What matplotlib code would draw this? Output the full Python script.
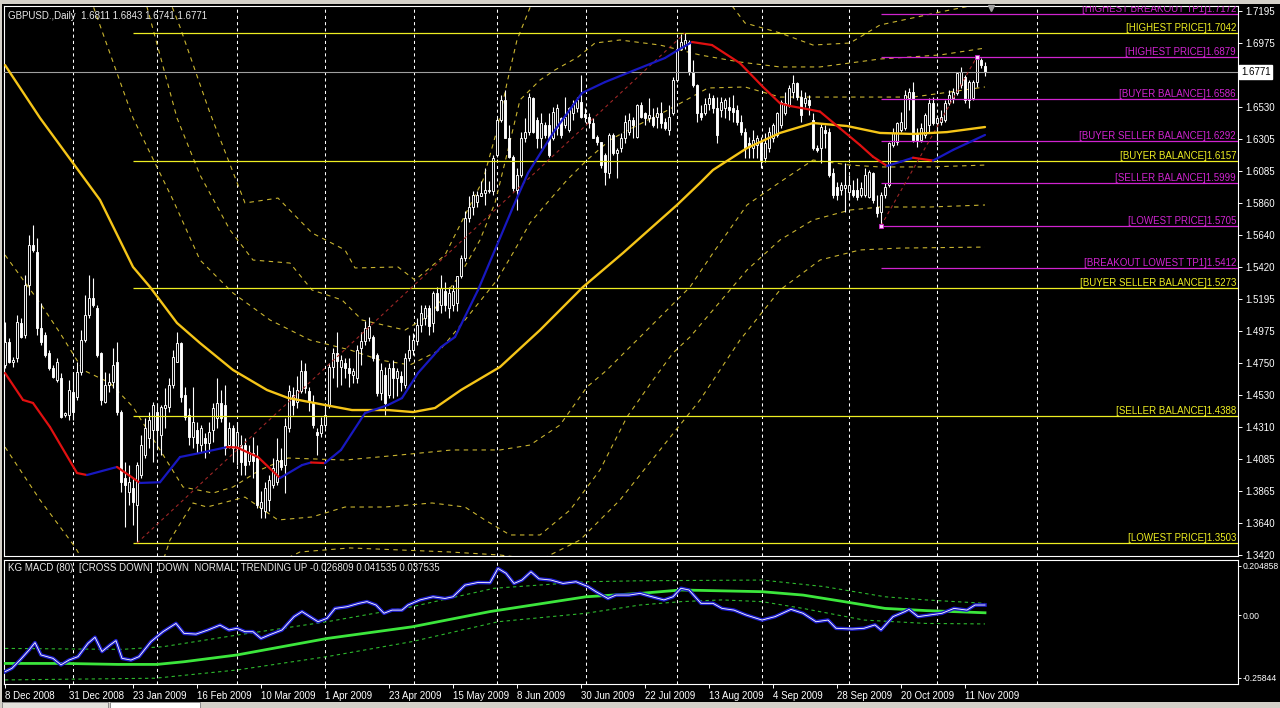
import matplotlib
matplotlib.use("Agg")
import matplotlib.pyplot as plt
import matplotlib.transforms as mtransforms
from matplotlib.patches import Rectangle
import numpy as np

plt.rcParams['font.family'] = ['Liberation Sans', 'DejaVu Sans']

# ---- daily candles (GBPUSD, 8 Dec 2008 .. 18 Nov 2009) ----
opens = [
    1.4739, 1.4901, 1.4762, 1.4785, 1.5028, 1.4947, 1.5294, 1.5572, 1.5526, 1.4994,
    1.4947, 1.4820, 1.4716, 1.4635, 1.4647, 1.4392, 1.4392, 1.4554, 1.4519, 1.4693,
    1.4913, 1.5086, 1.5202, 1.5132, 1.4820, 1.4485, 1.4600, 1.4624, 1.4762, 1.4415,
    1.3953, 1.3860, 1.3883, 1.3768, 1.3976, 1.4115, 1.4230, 1.4288, 1.4415, 1.4253,
    1.4438, 1.4450, 1.4600, 1.4762, 1.4889, 1.4531, 1.4392, 1.4242, 1.4288, 1.4184,
    1.4230, 1.4196, 1.4288, 1.4369, 1.4473, 1.4462, 1.4184, 1.4300, 1.4161, 1.4184,
    1.4185, 1.4069, 1.4127, 1.4092, 1.3745, 1.3722, 1.3803, 1.3907, 1.3930, 1.4081,
    1.4046, 1.4300, 1.4532, 1.4485, 1.4555, 1.4694, 1.4555, 1.4474, 1.4277, 1.4266,
    1.4324, 1.4462, 1.4728, 1.4821, 1.4728, 1.4751, 1.4717, 1.4670, 1.4647, 1.4856,
    1.4902, 1.4925, 1.4936, 1.4809, 1.4543, 1.4670, 1.4532, 1.4717, 1.4647, 1.4659,
    1.4601, 1.4786, 1.4844, 1.4902, 1.5017, 1.5064, 1.5133, 1.5029, 1.5237, 1.5156,
    1.5249, 1.5133, 1.5156, 1.5168, 1.5353, 1.5480, 1.5758, 1.5838, 1.5873, 1.5908,
    1.5931, 1.5943, 1.5943, 1.6196, 1.6438, 1.6576, 1.6311, 1.6185, 1.5954, 1.6058,
    1.6311, 1.6357, 1.6588, 1.6438, 1.6311, 1.6404, 1.6404, 1.6311, 1.6381, 1.6450,
    1.6404, 1.6369, 1.6484, 1.6519, 1.6565, 1.6477, 1.6461, 1.6415, 1.6323, 1.6288,
    1.6196, 1.6069, 1.6334, 1.6208, 1.6242, 1.6311, 1.6357, 1.6438, 1.6323, 1.6542,
    1.6484, 1.6450, 1.6461, 1.6461, 1.6484, 1.6427, 1.6369, 1.6484, 1.6715, 1.6934,
    1.6957, 1.6980, 1.6772, 1.6680, 1.6484, 1.6484, 1.6553, 1.6588, 1.6519, 1.6507,
    1.6519, 1.6530, 1.6519, 1.6507, 1.6427, 1.6358, 1.6277, 1.6242, 1.6265, 1.6289,
    1.6173, 1.6242, 1.6312, 1.6335, 1.6404, 1.6485, 1.6543, 1.6636, 1.6694, 1.6601,
    1.6555, 1.6578, 1.6439, 1.6242, 1.6242, 1.6370, 1.6358, 1.6068, 1.5976, 1.5953,
    1.5964, 1.5941, 1.5953, 1.5953, 1.5918, 1.5918, 1.5906, 1.6068, 1.5837, 1.5802,
    1.5918, 1.5987, 1.6265, 1.6289, 1.6370, 1.6381, 1.6590, 1.6636, 1.6346, 1.6300,
    1.6335, 1.6404, 1.6555, 1.6416, 1.6428, 1.6439, 1.6555, 1.6590, 1.6624, 1.6682,
    1.6740, 1.6578, 1.6590, 1.6705, 1.6856, 1.6811,
]
highs = [
    1.5040, 1.4924, 1.4797, 1.5086, 1.5063, 1.5364, 1.5641, 1.5711, 1.5618, 1.5167,
    1.4970, 1.4843, 1.4739, 1.4785, 1.4681, 1.4415, 1.4635, 1.4693, 1.4762, 1.4982,
    1.5225, 1.5364, 1.5341, 1.5156, 1.4832, 1.4693, 1.4681, 1.4855, 1.4901, 1.4427,
    1.4068, 1.4045, 1.3953, 1.4068, 1.4253, 1.4369, 1.4415, 1.4485, 1.4473, 1.4462,
    1.4577, 1.4647, 1.4843, 1.4970, 1.4901, 1.4589, 1.4438, 1.4589, 1.4346, 1.4323,
    1.4265, 1.4346, 1.4473, 1.4647, 1.4566, 1.4600, 1.4346, 1.4323, 1.4346, 1.4253,
    1.4231, 1.4185, 1.4242, 1.4185, 1.3861, 1.3930, 1.3977, 1.4092, 1.4231, 1.4162,
    1.4370, 1.4601, 1.4589, 1.4659, 1.4775, 1.4751, 1.4589, 1.4532, 1.4300, 1.4381,
    1.4474, 1.4751, 1.4856, 1.4971, 1.4809, 1.4786, 1.4786, 1.4717, 1.4879, 1.4971,
    1.5041, 1.5075, 1.4948, 1.4821, 1.4751, 1.4728, 1.4751, 1.4775, 1.4717, 1.4694,
    1.4821, 1.4948, 1.4960, 1.5064, 1.5156, 1.5156, 1.5156, 1.5249, 1.5283, 1.5364,
    1.5318, 1.5283, 1.5295, 1.5353, 1.5503, 1.5804, 1.5908, 1.5943, 1.5943, 1.6012,
    1.6104, 1.6012, 1.6197, 1.6450, 1.6611, 1.6646, 1.6404, 1.6196, 1.6104, 1.6357,
    1.6450, 1.6623, 1.6599, 1.6461, 1.6484, 1.6427, 1.6484, 1.6530, 1.6553, 1.6461,
    1.6599, 1.6530, 1.6576, 1.6599, 1.6749, 1.6519, 1.6484, 1.6450, 1.6334, 1.6288,
    1.6208, 1.6346, 1.6346, 1.6242, 1.6346, 1.6473, 1.6484, 1.6461, 1.6553, 1.6565,
    1.6496, 1.6588, 1.6519, 1.6530, 1.6565, 1.6450, 1.6542, 1.6738, 1.7003, 1.7037,
    1.7042, 1.6991, 1.6853, 1.6692, 1.6542, 1.6588, 1.6623, 1.6611, 1.6599, 1.6599,
    1.6588, 1.6599, 1.6611, 1.6542, 1.6473, 1.6381, 1.6323, 1.6370, 1.6335, 1.6323,
    1.6346, 1.6393, 1.6416, 1.6497, 1.6578, 1.6636, 1.6682, 1.6752, 1.6705, 1.6647,
    1.6636, 1.6613, 1.6485, 1.6265, 1.6416, 1.6404, 1.6381, 1.6103, 1.6011, 1.6011,
    1.6138, 1.6057, 1.6022, 1.6034, 1.6011, 1.6103, 1.6092, 1.6080, 1.5918, 1.5941,
    1.5999, 1.6289, 1.6381, 1.6428, 1.6497, 1.6647, 1.6659, 1.6705, 1.6381, 1.6416,
    1.6485, 1.6590, 1.6601, 1.6474, 1.6509, 1.6578, 1.6647, 1.6659, 1.6775, 1.6810,
    1.6752, 1.6717, 1.6717, 1.6879, 1.6870, 1.6843,
]
lows = [
    1.4716, 1.4751, 1.4728, 1.4762, 1.4924, 1.4924, 1.5225, 1.5526, 1.4947, 1.4878,
    1.4797, 1.4704, 1.4647, 1.4624, 1.4369, 1.4381, 1.4357, 1.4357, 1.4496, 1.4670,
    1.4901, 1.5063, 1.5144, 1.4797, 1.4462, 1.4473, 1.4554, 1.4577, 1.4392, 1.3860,
    1.3617, 1.3768, 1.3629, 1.3503, 1.3953, 1.4092, 1.4161, 1.4068, 1.4161, 1.4115,
    1.4300, 1.4415, 1.4577, 1.4762, 1.4485, 1.4357, 1.4184, 1.4161, 1.4126, 1.4138,
    1.4092, 1.4126, 1.4207, 1.4300, 1.4346, 1.4115, 1.4161, 1.4068, 1.4045, 1.3976,
    1.3977, 1.4046, 1.3953, 1.3745, 1.3676, 1.3676, 1.3722, 1.3884, 1.3907, 1.4011,
    1.3849, 1.4277, 1.4393, 1.4439, 1.4543, 1.4543, 1.4416, 1.4300, 1.4115, 1.4242,
    1.4300, 1.4439, 1.4647, 1.4589, 1.4601, 1.4647, 1.4589, 1.4613, 1.4613, 1.4740,
    1.4879, 1.4902, 1.4763, 1.4520, 1.4497, 1.4393, 1.4509, 1.4509, 1.4520, 1.4555,
    1.4578, 1.4763, 1.4809, 1.4879, 1.4971, 1.5017, 1.4948, 1.4971, 1.5110, 1.5098,
    1.5110, 1.5064, 1.5110, 1.5110, 1.5341, 1.5457, 1.5734, 1.5781, 1.5838, 1.5908,
    1.5850, 1.5931, 1.5919, 1.6185, 1.6427, 1.6311, 1.6173, 1.5943, 1.5816, 1.6046,
    1.6288, 1.6334, 1.6346, 1.6242, 1.6242, 1.6311, 1.6185, 1.6300, 1.6334, 1.6311,
    1.6381, 1.6357, 1.6438, 1.6496, 1.6450, 1.6427, 1.6381, 1.6311, 1.6265, 1.6104,
    1.5989, 1.6035, 1.6196, 1.6035, 1.6219, 1.6277, 1.6334, 1.6311, 1.6311, 1.6450,
    1.6404, 1.6427, 1.6392, 1.6381, 1.6381, 1.6369, 1.6334, 1.6473, 1.6703, 1.6922,
    1.6934, 1.6749, 1.6669, 1.6427, 1.6438, 1.6473, 1.6507, 1.6484, 1.6277, 1.6461,
    1.6450, 1.6438, 1.6427, 1.6404, 1.6334, 1.6173, 1.6173, 1.6173, 1.6173, 1.6103,
    1.6150, 1.6219, 1.6289, 1.6323, 1.6381, 1.6474, 1.6532, 1.6590, 1.6578, 1.6428,
    1.6532, 1.6474, 1.6231, 1.6219, 1.6138, 1.6242, 1.6045, 1.5895, 1.5883, 1.5918,
    1.5802, 1.5883, 1.5906, 1.5883, 1.5906, 1.5906, 1.5895, 1.5860, 1.5767, 1.5705,
    1.5895, 1.5976, 1.6254, 1.6265, 1.6358, 1.6370, 1.6509, 1.6289, 1.6254, 1.6289,
    1.6312, 1.6358, 1.6404, 1.6265, 1.6404, 1.6428, 1.6543, 1.6555, 1.6613, 1.6659,
    1.6555, 1.6520, 1.6578, 1.6671, 1.6798, 1.6741,
]
closes = [
    1.4901, 1.4762, 1.4774, 1.5040, 1.4936, 1.5294, 1.5572, 1.5537, 1.4994, 1.4901,
    1.4809, 1.4716, 1.4658, 1.4762, 1.4381, 1.4404, 1.4566, 1.4415, 1.4693, 1.4913,
    1.5086, 1.5202, 1.5156, 1.4809, 1.4496, 1.4600, 1.4624, 1.4739, 1.4415, 1.3930,
    1.3906, 1.3930, 1.3791, 1.4045, 1.4184, 1.4300, 1.4357, 1.4462, 1.4288, 1.4450,
    1.4462, 1.4600, 1.4797, 1.4889, 1.4519, 1.4381, 1.4242, 1.4346, 1.4196, 1.4300,
    1.4196, 1.4277, 1.4438, 1.4473, 1.4369, 1.4161, 1.4300, 1.4161, 1.4277, 1.4068,
    1.4046, 1.4138, 1.4069, 1.3768, 1.3791, 1.3884, 1.3942, 1.4023, 1.4081, 1.4034,
    1.4312, 1.4555, 1.4462, 1.4566, 1.4694, 1.4578, 1.4485, 1.4324, 1.4254, 1.4324,
    1.4393, 1.4728, 1.4821, 1.4763, 1.4775, 1.4717, 1.4682, 1.4694, 1.4844, 1.4902,
    1.4994, 1.5006, 1.4786, 1.4543, 1.4705, 1.4474, 1.4717, 1.4647, 1.4694, 1.4624,
    1.4786, 1.4844, 1.4913, 1.5017, 1.5098, 1.5133, 1.5006, 1.5237, 1.5121, 1.5272,
    1.5156, 1.5237, 1.5249, 1.5353, 1.5480, 1.5758, 1.5838, 1.5919, 1.5919, 1.5931,
    1.5954, 1.5954, 1.6174, 1.6438, 1.6576, 1.6311, 1.6185, 1.5966, 1.6058, 1.6311,
    1.6357, 1.6599, 1.6357, 1.6311, 1.6415, 1.6334, 1.6196, 1.6496, 1.6519, 1.6334,
    1.6461, 1.6519, 1.6553, 1.6576, 1.6461, 1.6461, 1.6415, 1.6311, 1.6288, 1.6127,
    1.6081, 1.6334, 1.6208, 1.6231, 1.6311, 1.6427, 1.6438, 1.6404, 1.6542, 1.6461,
    1.6450, 1.6473, 1.6404, 1.6484, 1.6415, 1.6381, 1.6461, 1.6715, 1.6934, 1.6980,
    1.6991, 1.6772, 1.6680, 1.6484, 1.6461, 1.6553, 1.6588, 1.6519, 1.6334, 1.6565,
    1.6576, 1.6507, 1.6496, 1.6427, 1.6357, 1.6242, 1.6254, 1.6300, 1.6312, 1.6161,
    1.6277, 1.6358, 1.6404, 1.6485, 1.6566, 1.6555, 1.6659, 1.6694, 1.6601, 1.6474,
    1.6590, 1.6543, 1.6242, 1.6231, 1.6393, 1.6346, 1.6057, 1.5918, 1.5918, 1.5987,
    1.5987, 1.5987, 1.5918, 1.5906, 1.5964, 1.6057, 1.6080, 1.5883, 1.5791, 1.5918,
    1.5976, 1.6277, 1.6346, 1.6416, 1.6428, 1.6613, 1.6636, 1.6300, 1.6300, 1.6381,
    1.6474, 1.6555, 1.6416, 1.6451, 1.6462, 1.6555, 1.6613, 1.6636, 1.6763, 1.6775,
    1.6578, 1.6705, 1.6705, 1.6868, 1.6821, 1.6771,
]

# ---- indicator curves (bar index, value) ----
slow_ma_bar = [0, 8.75, 23.75, 32, 36.25, 43, 48.75, 57, 60, 65.5, 70.75, 80, 86.75, 95.75,
               102, 107.5, 114, 123.75, 133.75, 144.5, 154.5, 168, 173.75, 177, 185.5,
               193.75, 202, 210.5, 218.75, 227, 235.5, 245]
slow_ma_val = [1.6820, 1.6453, 1.5884, 1.5419, 1.5280, 1.5030, 1.4891, 1.4704, 1.4655, 1.4565,
               1.4510, 1.4461, 1.4426, 1.4426, 1.4412, 1.4440, 1.4565, 1.4725, 1.4981, 1.5280,
               1.5516, 1.5849, 1.6002, 1.6092, 1.6244, 1.6349, 1.6418, 1.6397, 1.6349, 1.6342,
               1.6355, 1.6390]

fast_ma_bar = [0, 4.5, 7, 11.25, 18, 20.5, 28, 33.75, 38.75, 43.75, 48.75, 55.5, 58, 63.25,
               68.75, 74.25, 76.5, 80, 84, 90, 95.75, 99.25, 103.25, 109, 112.5, 118.25,
               123.75, 127, 130.75, 137.5, 144.25, 150, 157.5, 165, 168.25, 171.75, 176.75,
               183.75, 189.5, 193.75, 196.25, 200.5, 203.75, 208.75, 213.75, 217, 220.5,
               224, 227, 232, 237, 245]
fast_ma_val = [1.4683, 1.4496, 1.4475, 1.4308, 1.3989, 1.3975, 1.4031, 1.3920, 1.3925, 1.4100,
               1.4128, 1.4169, 1.4166, 1.4100, 1.3954, 1.4044, 1.4062, 1.4058, 1.4149, 1.4405,
               1.4461, 1.4509, 1.4683, 1.4863, 1.4933, 1.5259, 1.5620, 1.5835, 1.6071, 1.6369,
               1.6626, 1.6702, 1.6786, 1.6869, 1.6924, 1.6980, 1.6959, 1.6833, 1.6668, 1.6555,
               1.6536, 1.6515, 1.6497, 1.6381, 1.6265, 1.6184, 1.6120, 1.6150, 1.6177, 1.6157,
               1.6231, 1.6335]

band_u1_bar = [16.25, 23, 32, 42, 48.75, 57, 66.25, 76.25, 86.25, 93.75, 101.25, 108.75, 115,
               123, 127, 131.25, 135.5, 140.5, 145.5, 151.25, 155.75, 165.75, 175.75, 185,
               193.75, 211.25, 227, 236.25, 245]
band_u1_val = [1.7688, 1.7154, 1.6453, 1.5884, 1.5467, 1.5238, 1.5051, 1.4912, 1.4843, 1.4773,
               1.4739, 1.4843, 1.5051, 1.5328, 1.5516, 1.5724, 1.5863, 1.6022, 1.6161, 1.6300,
               1.6369, 1.6508, 1.6661, 1.6668, 1.6598, 1.6598, 1.6598, 1.6633, 1.6668]
band_u2_bar = [26.25, 35.5, 43, 48.75, 56.25, 62, 71.25, 76.75, 84.25, 89.25, 100, 106.25,
               113.75, 118.75, 122.5, 125.75, 128.75, 133.75, 137.5, 143.25, 147.5, 153.75,
               163.75, 173.75, 183.75, 193.75, 203.75, 218.75, 233.75, 245]
band_u2_val = [1.7618, 1.7223, 1.6453, 1.6057, 1.5675, 1.5467, 1.5446, 1.5259, 1.5190, 1.5051,
               1.4981, 1.5086, 1.5363, 1.5606, 1.5863, 1.6231, 1.6578, 1.6716, 1.6786, 1.6876,
               1.6973, 1.6994, 1.6959, 1.6890, 1.6841, 1.6807, 1.6807, 1.6862, 1.6890, 1.6938]
band_u3_bar = [36.25, 43.75, 51.25, 60, 68.25, 76.75, 85, 87.5, 98.25, 102.5, 110, 115, 119.5,
               123, 125.5, 128, 130.5, 135, 158.75, 178.75, 185, 193.75, 202, 211.25, 218.75,
               233.75, 245]
band_u3_val = [1.7618, 1.7084, 1.6487, 1.5863, 1.5897, 1.5655, 1.5537, 1.5412, 1.5419, 1.5328,
               1.5502, 1.5779, 1.6022, 1.6369, 1.6696, 1.6994, 1.7167, 1.7480, 1.7688, 1.7341,
               1.7112, 1.7043, 1.6959, 1.6973, 1.7098, 1.7188, 1.7251]
band_d1_bar = [0, 8.75, 13.75, 19.5, 26.25, 32, 38.75, 44.5, 52, 57, 63.75, 70.75, 85, 98.75,
               111.75, 123.75, 131.25, 138.75, 145.5, 150.5, 155.5, 160.5, 165.5, 171.25, 177,
               185.5, 193.75, 202, 211.25, 218.75, 231.25, 245]
band_d1_val = [1.5502, 1.5169, 1.4961, 1.4704, 1.4614, 1.4447, 1.4149, 1.3892, 1.3850, 1.3892,
               1.4010, 1.4093, 1.4079, 1.4114, 1.4149, 1.4149, 1.4183, 1.4322, 1.4586, 1.4704,
               1.4843, 1.4981, 1.5120, 1.5280, 1.5516, 1.5849, 1.6008, 1.6161, 1.6126, 1.6113,
               1.6113, 1.6126]
band_d2_bar = [0, 8.75, 17.5, 23.75, 36.25, 41.25, 47, 50.5, 60, 68.25, 76.75, 85, 95, 106.75,
               115, 120, 126.25, 133.75, 141.25, 148.75, 155.5, 162, 167, 171.25, 177, 185.5,
               193.75, 202, 211.25, 218.75, 231.25, 245]
band_d2_val = [1.4169, 1.3802, 1.3476, 1.3177, 1.3108, 1.3524, 1.3781, 1.3753, 1.3822, 1.3663,
               1.3684, 1.3753, 1.3753, 1.3781, 1.3753, 1.3663, 1.3559, 1.3559, 1.3732, 1.4010,
               1.4378, 1.4634, 1.4822, 1.4933, 1.5120, 1.5398, 1.5606, 1.5745, 1.5814, 1.5835,
               1.5835, 1.5849]
band_d3_bar = [48.75, 73.75, 86.25, 98.75, 111.25, 123.75, 133.75, 143.75, 153.75, 163.75,
               173.75, 183.75, 193.75, 203.75, 213.75, 223.75, 245]
band_d3_val = [1.3108, 1.3441, 1.3469, 1.3455, 1.3441, 1.3420, 1.3385, 1.3524, 1.3802, 1.4149,
               1.4496, 1.4912, 1.5259, 1.5467, 1.5537, 1.5550, 1.5557]

# ---- level objects ----
yellow_levels = [1.7042, 1.6157, 1.5273, 1.4388, 1.3503]
yellow_labels = ['[HIGHEST PRICE]1.7042', '[BUYER BALANCE]1.6157', '[BUYER SELLER BALANCE]1.5273',
                 '[SELLER BALANCE]1.4388', '[LOWEST PRICE]1.3503']
magenta_levels = [1.7172, 1.6879, 1.6586, 1.6292, 1.5999, 1.5705, 1.5412]
magenta_labels = ['[HIGHEST BREAKOUT TP1]1.7172', '[HIGHEST PRICE]1.6879', '[BUYER BALANCE]1.6586',
                  '[BUYER SELLER BALANCE]1.6292', '[SELLER BALANCE]1.5999', '[LOWEST PRICE]1.5705',
                  '[BREAKOUT LOWEST TP1]1.5412']
last_price = 1.6771
price_ticks = [1.7195, 1.6975, 1.6530, 1.6305, 1.6085, 1.5860, 1.5640, 1.5420, 1.5195,
               1.4975, 1.4750, 1.4530, 1.4310, 1.4085, 1.3865, 1.3640, 1.3420]

# ---- MACD sub window ----
macd_bar = [0, 1.75, 3.75, 6, 7.5, 9, 12, 14, 16, 18.25, 20.75, 22.5, 24.25, 26.25, 27.75, 29.25,
            31.5, 33.5, 36.5, 39.5, 42.75, 44.75, 47.75, 50.75, 53.75, 56, 58, 60, 62, 64, 66,
            69.25, 72.25, 74.25, 76.25, 78.25, 80.5, 82.5, 85.5, 88.5, 90.5, 92.75, 94.75, 96.75,
            99.25, 100.75, 103.75, 107, 110, 112, 115, 118.25, 121.25, 123.25, 125.25, 127.25,
            129.25, 131.5, 133.5, 136.5, 139.5, 142.75, 145.75, 147.75, 150.75, 152.75, 156,
            158.75, 161.75, 164.75, 167, 169, 171, 174, 177, 179.25, 182.25, 185.25, 189.25,
            192.5, 196.5, 199.5, 202.75, 205.75, 207.75, 211.75, 214.75, 217.5, 219, 222, 225,
            226, 228.25, 231.25, 234.25, 237.25, 240.5, 242.5, 245]
macd_val = [-0.233, -0.219, -0.185, -0.144, -0.113, -0.164, -0.178, -0.205, -0.185, -0.171,
            -0.116, -0.091, -0.150, -0.123, -0.105, -0.178, -0.185, -0.171, -0.109, -0.068,
            -0.034, -0.075, -0.078, -0.061, -0.041, -0.061, -0.054, -0.068, -0.068, -0.096,
            -0.082, -0.061, -0.006, 0.015, -0.006, -0.027, -0.013, 0.028, 0.035, 0.049,
            0.056, 0.042, 0.008, 0.021, 0.021, 0.042, 0.063, 0.076, 0.069, 0.076,
            0.124, 0.135, 0.134, 0.193, 0.173, 0.131, 0.145, 0.179, 0.150, 0.145,
            0.131, 0.138, 0.118, 0.097, 0.069, 0.083, 0.083, 0.090, 0.076, 0.063,
            0.076, 0.111, 0.104, 0.049, 0.049, 0.028, 0.021, 0.001, -0.020, -0.006,
            0.024, 0.008, -0.027, -0.020, -0.054, -0.057, -0.054, -0.040, -0.061, -0.006,
            0.015, 0.024, -0.006, 0.001, 0.008, 0.028, 0.021, 0.042, 0.042]
signal_bar = [0, 15, 28.25, 38, 44.75, 58, 80.5, 101.75, 121.25, 145.25, 158.75, 169, 189.25,
              199.5, 209.75, 220, 230.25, 245]
signal_val = [-0.199, -0.199, -0.203, -0.203, -0.192, -0.164, -0.096, -0.048, 0.015, 0.076,
              0.090, 0.104, 0.097, 0.083, 0.056, 0.028, 0.019, 0.010]
sig_up_bar = [0, 29.25, 39.5, 58, 80.5, 101.75, 122.25, 145.25, 158.75, 189.25, 204.75, 220,
              230.25, 245]
sig_up_val = [-0.137, -0.141, -0.130, -0.082, -0.027, 0.035, 0.111, 0.138, 0.142, 0.145, 0.118,
              0.076, 0.063, 0.049]
sig_dn_bar = [0, 37.5, 58, 80.5, 101.75, 123.25, 145.25, 158.75, 169, 179.25, 189.25, 199.5,
              214.75, 230.25, 245]
sig_dn_val = [-0.267, -0.260, -0.226, -0.171, -0.109, -0.027, 0.008, 0.042, 0.056, 0.063, 0.056,
              0.028, -0.020, -0.034, -0.036]
macd_ticks = [0.204858, 0.0, -0.25844]
macd_tick_labels = ['0.204858', '0.00', '-0.25844']

date_labels = ['8 Dec 2008', '31 Dec 2008', '23 Jan 2009', '16 Feb 2009', '10 Mar 2009',
               '1 Apr 2009', '23 Apr 2009', '15 May 2009', '8 Jun 2009', '30 Jun 2009',
               '22 Jul 2009', '13 Aug 2009', '4 Sep 2009', '28 Sep 2009', '20 Oct 2009',
               '11 Nov 2009']
bars_per_label = 16
month_lines = [17.1, 38.1, 57.9, 80.1, 102.2, 123, 145.2, 168, 189.25, 211, 233, 258]

# ---------------------------------------------------------------------------
W, H = 1280, 708
fig = plt.figure(figsize=(W / 100, H / 100), dpi=100, facecolor='black')


def px_box(left, top, right, bottom):
    return [left / W, 1 - bottom / H, (right - left) / W, (bottom - top) / H]


ax = fig.add_axes(px_box(4, 6, 1238, 556))
mx = fig.add_axes(px_box(4, 560, 1238, 684))
for a in (ax, mx):
    a.set_facecolor('black')
    for s in a.spines.values():
        s.set_color('white')
        s.set_linewidth(0.8)
    a.set_xlim(-0.25, 308.25)
    for m in month_lines:
        a.axvline(m, color='white', lw=0.75, ls=(0, (3, 3)), zorder=1)

ax.set_ylim(1.34131, 1.72299)
mx.set_ylim(-0.2838, 0.2277)

txt = dict(color='#E8E8E8', fontsize=7)

# dashed envelope bands
band_col = '#C9B430'
for bx, by in [(band_u1_bar, band_u1_val), (band_u2_bar, band_u2_val), (band_u3_bar, band_u3_val),
               (band_d1_bar, band_d1_val), (band_d2_bar, band_d2_val), (band_d3_bar, band_d3_val)]:
    ax.plot(bx, by, color=band_col, lw=0.8, ls=(0, (4, 4)), zorder=2)

# candles
o = np.array(opens)
h = np.array(highs)
l = np.array(lows)
c = np.array(closes)
idx = np.arange(len(c))
ax.vlines(idx, l, h, color='white', lw=0.8, zorder=4)
up = c >= o
body = np.maximum(np.abs(c - o), 0.00004)
ax.bar(idx, body, bottom=np.minimum(o, c), width=0.6,
       color=np.where(up, 'black', 'white'), edgecolor='white', lw=0.65, zorder=5)

# level objects
low_bar = int(np.argmin(l))
high_bar = int(np.argmax(h))
recent_low = 200 + int(np.argmin(l[200:]))
recent_high = recent_low + int(np.argmax(h[recent_low:]))
lab_tr = mtransforms.blended_transform_factory(ax.transAxes, ax.transData)
for lev, lab in zip(yellow_levels, yellow_labels):
    ax.hlines(lev, low_bar - 1, 308.25, color='#EEEE22', lw=0.9, zorder=6)
    ax.text(1 - 2 / 1234, lev, lab, transform=lab_tr, ha='right', va='bottom',
            color='#EEEE22', fontsize=7, zorder=9, clip_on=True)
for lev, lab in zip(magenta_levels, magenta_labels):
    ax.hlines(lev, recent_low, 308.25, color='#D024D0', lw=0.9, zorder=6)
    ax.text(1 - 2 / 1234, lev, lab, transform=lab_tr, ha='right', va='bottom',
            color='#D024D0', fontsize=7, zorder=9, clip_on=True)
ax.axhline(last_price, color='#A0A0A0', lw=0.8, zorder=6)

ax.plot([low_bar, high_bar], [l[low_bar], h[high_bar]], color='#9E2626', lw=0.8,
        ls=(0, (3, 3)), zorder=6)
ax.plot([recent_low, recent_high], [l[recent_low], h[recent_high]], color='#9E2626', lw=0.8,
        ls=(0, (3, 3)), zorder=6)
ax.plot([recent_low, recent_high], [l[recent_low], h[recent_high]], 's', ms=3,
        mfc='#FFD8FF', mec='#D024D0', mew=0.6, zorder=8)

# moving averages
ax.plot(slow_ma_bar, slow_ma_val, color='#F5C518', lw=1.7, zorder=7,
        solid_capstyle='round', solid_joinstyle='round')
for j in range(len(fast_ma_bar) - 1):
    col = '#E01010' if fast_ma_val[j + 1] < fast_ma_val[j] else '#1818C0'
    ax.plot(fast_ma_bar[j:j + 2], fast_ma_val[j:j + 2], color=col, lw=1.6, zorder=7,
            solid_capstyle='round')

# shift marker
ax.plot(len(c) + 0.5, 1.7215, marker='v', ms=4, color='#A0A0A0', zorder=9, clip_on=False)

# axes ticks
ax.yaxis.tick_right()
ax.set_yticks(price_ticks)
ax.set_yticklabels([f'{v:.4f}' for v in price_ticks])
ax.tick_params(axis='y', colors='white', labelsize=7, length=3, width=0.7, pad=2)
ax.set_xticks([])
ax.text(1 + 3 / 1234, last_price, f'{last_price:.4f}', transform=lab_tr, ha='left', va='center',
        color='black', fontsize=7, zorder=10, clip_on=False,
        bbox=dict(facecolor='white', edgecolor='white', pad=1.2))
ax.text(4 / 1234, 1 - 5 / 550, 'GBPUSD.,Daily  1.6811 1.6843 1.6741 1.6771',
        transform=ax.transAxes, ha='left', va='top', zorder=10, **txt)

# MACD panel
mx.plot(sig_up_bar, sig_up_val, color='#2DB82D', lw=0.8, ls=(0, (3, 3)), zorder=3)
mx.plot(sig_dn_bar, sig_dn_val, color='#2DB82D', lw=0.8, ls=(0, (3, 3)), zorder=3)
mx.plot(signal_bar, signal_val, color='#3CE63C', lw=2.0, zorder=4)
mx.plot(macd_bar, macd_val, color='#1E1ECC', lw=2.6, zorder=5, solid_joinstyle='round')
mx.plot(macd_bar, macd_val, color='white', lw=0.6, zorder=6)
mx.text(4 / 1234, 1 - 3 / 124,
        'KG MACD (80)  [CROSS DOWN]  DOWN  NORMAL  TRENDING UP -0.026809 0.041535 0.037535',
        transform=mx.transAxes, ha='left', va='top', zorder=10, **txt)
mx.yaxis.tick_right()
mx.set_yticks(macd_ticks)
mx.set_yticklabels(macd_tick_labels)
mx.tick_params(axis='y', colors='white', labelsize=6.2, length=2, width=0.7, pad=1)
label_pos = [k * bars_per_label for k in range(len(date_labels))]
mx.set_xticks(label_pos)
mx.set_xticklabels(date_labels, ha='left')
mx.tick_params(axis='x', colors='white', labelsize=7, length=3, width=0.7, pad=2)

# window chrome
fig.patches.append(Rectangle((0, 1 - 4 / H), 1, 4 / H, transform=fig.transFigure,
                             facecolor='#D4D0C8', edgecolor='none'))
fig.patches.append(Rectangle((0, 0), 2 / W, 1, transform=fig.transFigure,
                             facecolor='#D4D0C8', edgecolor='none'))
fig.patches.append(Rectangle((0, 0), 1, 6 / H, transform=fig.transFigure,
                             facecolor='#D4D0C8', edgecolor='none'))
fig.patches.append(Rectangle((2 / W, 0), 106 / W, 6 / H, transform=fig.transFigure,
                             facecolor='#E4E2DC', edgecolor='#808080', lw=0.6))
fig.patches.append(Rectangle((110 / W, 0), 90 / W, 6 / H, transform=fig.transFigure,
                             facecolor='white', edgecolor='#808080', lw=0.6))

fig.savefig('out.png', dpi=100, facecolor='black')
